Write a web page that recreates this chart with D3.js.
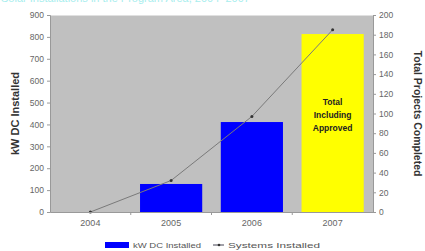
<!DOCTYPE html>
<html>
<head>
<meta charset="utf-8">
<script src="https://cdn.jsdelivr.net/npm/d3@7"></script>
<style>
  body { margin: 0; background: #fff; }
  text { font-family: "Liberation Sans", Arial, sans-serif; }
</style>
</head>
<body>
<svg id="chart" width="425" height="251"></svg>
<script>
const years = ["2004", "2005", "2006", "2007"];
const kwInstalled = [0, 128, 411, 813];
const systemsInstalled = [0, 32, 97, 185];
const leftTicks = [0, 100, 200, 300, 400, 500, 600, 700, 800, 900];
const rightTicks = [0, 20, 40, 60, 80, 100, 120, 140, 160, 180, 200];
const barColors = ["#0000ff", "#0000ff", "#0000ff", "#ffff00"];
const barNote = ["Total", "Including", "Approved"];

const svg = d3.select("#chart");
const m = { l: 50, r: 52, t: 15, b: 39 };
const W = 425, H = 251;
const w = W - m.l - m.r, h = H - m.t - m.b;
const g = svg.append("g").attr("transform", `translate(${m.l},${m.t})`);

// heading, cut off by the top edge in the original
svg.append("text").attr("x", 1).attr("y", 1.5)
  .attr("font-size", 11).attr("fill", "#a8eeee")
  .text("Solar Installations in the Program Area, 2004–2007");

const x = d3.scaleBand().domain(years).range([0, w]).paddingInner(0.23).paddingOuter(0.115);
const yL = d3.scaleLinear().domain([0, 900]).range([h, 0]);
const yR = d3.scaleLinear().domain([0, 200]).range([h, 0]);

g.append("rect").attr("width", w).attr("height", h).attr("fill", "#c0c0c0");
g.append("line").attr("x1", 0).attr("x2", w).attr("y1", 0.5).attr("y2", 0.5)
  .attr("stroke", "#e0e0e0");

g.selectAll(".bar").data(years.slice(1))
  .join("rect").attr("class", "bar")
  .attr("x", d => x(d))
  .attr("width", x.bandwidth())
  .attr("y", d => yL(kwInstalled[years.indexOf(d)]))
  .attr("height", d => h - yL(kwInstalled[years.indexOf(d)]))
  .attr("fill", d => barColors[years.indexOf(d)]);

g.selectAll(".note").data(barNote)
  .join("text").attr("class", "note")
  .attr("x", x("2007") + x.bandwidth() / 2)
  .attr("y", (d, i) => 90 + i * 13)
  .attr("text-anchor", "middle")
  .attr("font-size", 8.5).attr("font-weight", "bold").attr("fill", "#222")
  .text(d => d);

const cx = d => x(d) + x.bandwidth() / 2;
const line = d3.line().x(d => cx(d)).y(d => yR(systemsInstalled[years.indexOf(d)]));
g.append("path").datum(years).attr("d", line)
  .attr("fill", "none").attr("stroke", "#7a7a7a").attr("stroke-width", 1);
g.selectAll(".pt").data(years)
  .join("circle").attr("class", "pt")
  .attr("cx", d => cx(d)).attr("cy", d => yR(systemsInstalled[years.indexOf(d)]))
  .attr("r", 1.5).attr("fill", "#333");

// axes
const axL = g.append("g").call(d3.axisLeft(yL).tickValues(leftTicks).tickSize(3).tickPadding(3));
const axR = g.append("g").attr("transform", `translate(${w},0)`)
  .call(d3.axisRight(yR).tickValues(rightTicks).tickSize(3).tickPadding(3));
const axB = g.append("g").attr("transform", `translate(0,${h})`)
  .call(d3.axisBottom(x).tickSize(0).tickPadding(8));
[axL, axR, axB].forEach(a => {
  a.selectAll("path").attr("stroke", "#999");
  a.selectAll("line").attr("stroke", "#999");
  a.selectAll("text").attr("fill", "#666").attr("font-size", 8.5)
    .attr("font-family", "Liberation Sans, Arial, sans-serif");
});
axB.selectAll("text").attr("font-size", 9);
// small ticks between the year groups
const gap = (x.step() - x.bandwidth()) / 2;
g.selectAll(".sep").data(years.slice(1))
  .join("line").attr("class", "sep")
  .attr("x1", d => x(d) - gap).attr("x2", d => x(d) - gap)
  .attr("y1", h).attr("y2", h + 3).attr("stroke", "#999");

svg.append("text")
  .attr("transform", `translate(19,${m.t + h / 2}) rotate(-90)`)
  .attr("text-anchor", "middle").attr("font-size", 11).attr("font-weight", "bold").attr("fill", "#333")
  .text("kW DC Installed");
svg.append("text")
  .attr("transform", `translate(414,${m.t + h / 2}) rotate(90)`)
  .attr("text-anchor", "middle").attr("font-size", 10.5).attr("font-weight", "bold").attr("fill", "#333")
  .text("Total Projects Completed");

// legend
const lg = svg.append("g").attr("transform", "translate(105,245)");
lg.append("rect").attr("x", 0).attr("y", -3).attr("width", 24).attr("height", 6).attr("fill", "#0000ff");
lg.append("text").attr("x", 28).attr("y", 2.5).attr("font-size", 8).attr("fill", "#555")
  .attr("textLength", 68).attr("lengthAdjust", "spacingAndGlyphs").text("kW DC Installed");
lg.append("line").attr("x1", 108).attr("x2", 119).attr("y1", 0).attr("y2", 0).attr("stroke", "#445");
lg.append("circle").attr("cx", 114).attr("cy", 0).attr("r", 1.3).attr("fill", "#333");
lg.append("text").attr("x", 123).attr("y", 2.5).attr("font-size", 8).attr("fill", "#555")
  .attr("textLength", 92).attr("lengthAdjust", "spacingAndGlyphs").text("Systems Installed");
</script>
</body>
</html>
